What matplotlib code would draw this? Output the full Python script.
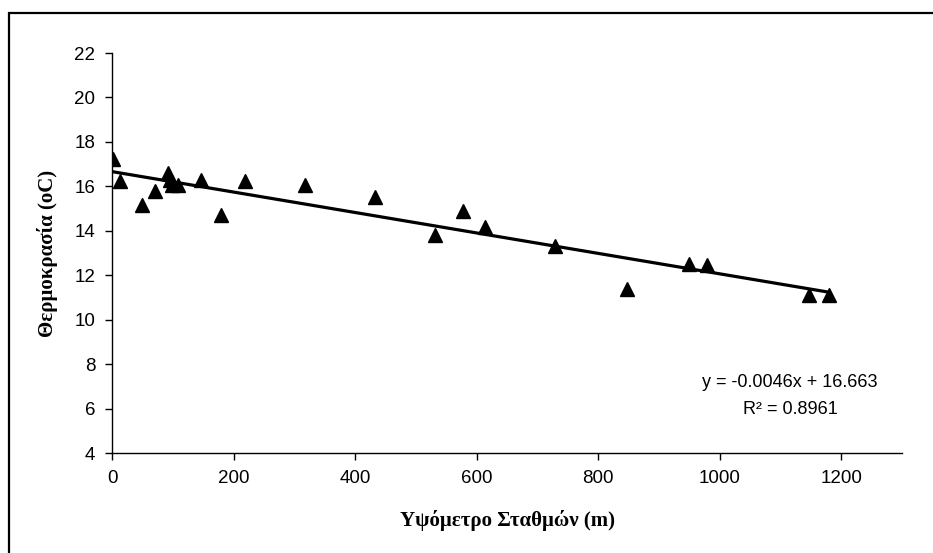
import numpy as np
import matplotlib
matplotlib.use('Agg')
import matplotlib.pyplot as plt
from matplotlib.patches import Rectangle

# Υψόμετρο σταθμών (m) και μέση θερμοκρασία (oC)
altitude = [2, 13, 49, 71, 92, 95, 98, 108, 146, 179, 219, 318, 433,
            531, 577, 614, 729, 847, 949, 979, 1147, 1180]
temperature = [17.25, 16.25, 15.15, 15.8, 16.6, 16.3, 16.05, 16.05, 16.3, 14.7, 16.25, 16.05, 15.5,
               13.8, 14.9, 14.15, 13.3, 11.4, 12.5, 12.45, 11.1, 11.1]

# γραμμική τάση όπως δίνεται στην εξίσωση
slope = -0.0046
intercept = 16.663
r_squared = 0.8961

x_ticks = [0, 200, 400, 600, 800, 1000, 1200]
y_ticks = [4, 6, 8, 10, 12, 14, 16, 18, 20, 22]

W, H = 933, 553
fig = plt.figure(figsize=(W / 100, H / 100), dpi=100)
ax = fig.add_axes([112 / W, 1 - 453 / H, 790 / W, 400 / H])

# εξωτερικό πλαίσιο (μόνο αριστερά και πάνω φαίνονται)
fig.patches.append(Rectangle((9 / W, -0.2), 1.2, 1 - 13 / H + 0.2,
                             transform=fig.transFigure, fill=False,
                             edgecolor='black', linewidth=1.6))

ax.plot(altitude, temperature, linestyle='none', marker='^', color='black',
        markersize=10, zorder=3)

x_line = np.array([min(altitude), max(altitude)])
ax.plot(x_line, slope * x_line + intercept, color='black', linewidth=2.3, zorder=2)

ax.set_xlim(0, 1300)
ax.set_ylim(4, 22)
ax.set_xticks(x_ticks)
ax.set_yticks(y_ticks)

for side in ['top', 'right']:
    ax.spines[side].set_visible(False)
for side in ['left', 'bottom']:
    ax.spines[side].set_linewidth(1.0)
    ax.spines[side].set_color('black')

ax.tick_params(direction='out', length=5, width=1.0, color='black',
               labelsize=13.5, pad=7)
for lbl in ax.get_xticklabels() + ax.get_yticklabels():
    lbl.set_family('Liberation Sans')

ax.set_xlabel('Υψόμετρο Σταθμών (m)', family='Liberation Serif', fontweight='bold',
              fontsize=15, labelpad=17)
ax.set_ylabel('Θερμοκρασία (oC)', family='Liberation Serif', fontweight='bold',
              fontsize=15, labelpad=12)

eq_text = f'y = {slope:.4f}x + {intercept:.3f}\nR² = {r_squared:.4f}'
fig.text(790 / W, 1 - 396 / H, eq_text, ha='center', va='center',
         family='Liberation Sans', fontsize=13, linespacing=1.7,
         multialignment='center')

fig.savefig('out.png', dpi=100)
